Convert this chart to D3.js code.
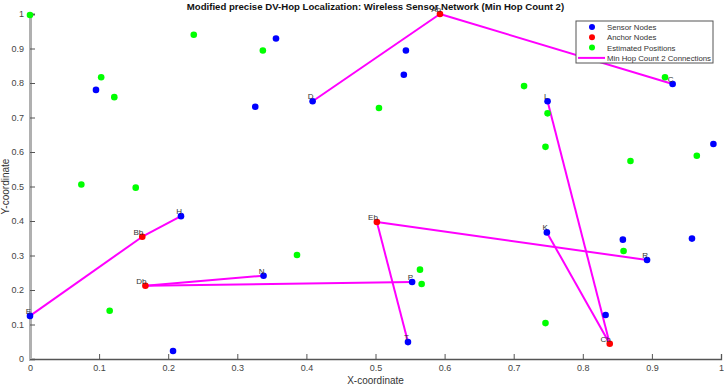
<!DOCTYPE html>
<html><head><meta charset="utf-8">
<script src="https://cdn.jsdelivr.net/npm/d3@7"></script>
<style>body{margin:0;background:#fff;} svg{display:block;font-family:"Liberation Sans",Arial,sans-serif;}</style>
</head><body>
<svg id="c" width="724" height="386"></svg>
<script>
// Sensor nodes: name, x, y
const sensorNames = ["S1","S2","S3","D","S5","S6","C","L","S9","S10","S11","K","R","H","E","N","S17","P","T","S20"];
const sensorX = [0.0955,0.356,0.326,0.409,0.544,0.541,0.930,0.749,0.989,0.958,0.858,0.748,0.893,0.2185,0.0,0.338,0.207,0.553,0.547,0.833];
const sensorY = [0.780,0.929,0.731,0.747,0.894,0.824,0.797,0.747,0.623,0.349,0.346,0.367,0.287,0.414,0.125,0.2415,0.023,0.223,0.049,0.1275];
const labeledSensors = ["D","C","L","K","R","H","E","N","P","T"];

const anchorNames = ["Ab","Bb","Cb","Db","Eb"];
const anchorX = [0.5933,0.1625,0.839,0.167,0.502];
const anchorY = [1.0,0.3545,0.0443,0.2125,0.397];

const estX = [0.0,0.237,0.337,0.103,0.122,0.505,0.715,0.919,0.749,0.746,0.869,0.965,0.859,0.0743,0.153,0.3864,0.1153,0.5644,0.5668,0.746];
const estY = [0.997,0.940,0.894,0.8165,0.759,0.7275,0.791,0.8165,0.712,0.615,0.574,0.589,0.313,0.506,0.4966,0.3014,0.140,0.259,0.2174,0.104];

const connFrom = ["Ab","Ab","Cb","Cb","Eb","Eb","Bb","Bb","Db","Db"];
const connTo   = ["D","C","L","K","R","T","H","E","N","P"];

const xTicks = [0,0.1,0.2,0.3,0.4,0.5,0.6,0.7,0.8,0.9,1];
const yTicks = [0,0.1,0.2,0.3,0.4,0.5,0.6,0.7,0.8,0.9,1];

const titleText = "Modified precise DV-Hop Localization: Wireless Sensor Network (Min Hop Count 2)";
const legendLabels = ["Sensor Nodes","Anchor Nodes","Estimated Positions","Min Hop Count 2 Connections"];
const legendColors = ["#0000ff","#ff0000","#00ff00","#ff00ff"];

const svg = d3.select("#c");
const L = 30, R = 721, T = 14, B = 359;
const x = d3.scaleLinear().domain([0,1]).range([L,R]);
const y = d3.scaleLinear().domain([0,1]).range([B,T]);

const pos = {};
sensorNames.forEach((n,i)=>pos[n]=[sensorX[i],sensorY[i]]);
anchorNames.forEach((n,i)=>pos[n]=[anchorX[i],anchorY[i]]);

// axes
const xAxis = svg.append("g").attr("transform",`translate(0,${B})`)
  .call(d3.axisBottom(x).tickValues(xTicks).tickSize(-5).tickPadding(6).tickFormat(d3.format("~g")));
const yAxis = svg.append("g").attr("transform",`translate(${L},0)`)
  .call(d3.axisLeft(y).tickValues(yTicks).tickSize(-5).tickPadding(6).tickFormat(d3.format("~g")));
[xAxis,yAxis].forEach(g=>{
  g.selectAll("text").attr("fill","#444").style("font-size","9px").style("font-family","Liberation Sans, Arial, sans-serif");
  g.selectAll(".tick line").attr("stroke","#555");
});
xAxis.select(".domain").attr("stroke","#555").attr("stroke-width",1.3);
yAxis.select(".domain").attr("stroke","#b0b0b0").attr("stroke-width",3);

// connections
const conn = svg.append("g");
connFrom.forEach((f,i)=>{
  const a = pos[f], b = pos[connTo[i]];
  conn.append("line").attr("x1",x(a[0])).attr("y1",y(a[1])).attr("x2",x(b[0])).attr("y2",y(b[1]))
    .attr("stroke","#ff00ff").attr("stroke-width",2);
});

// points
const pts = svg.append("g");
pts.selectAll(".s").data(sensorNames).enter().append("circle")
  .attr("cx",(d,i)=>x(sensorX[i])).attr("cy",(d,i)=>y(sensorY[i])).attr("r",3.3).attr("fill","#0000ff");
pts.selectAll(".a").data(anchorNames).enter().append("circle")
  .attr("cx",(d,i)=>x(anchorX[i])).attr("cy",(d,i)=>y(anchorY[i])).attr("r",3.3).attr("fill","#ff0000");
pts.selectAll(".e").data(estX).enter().append("circle")
  .attr("cx",(d,i)=>x(estX[i])).attr("cy",(d,i)=>y(estY[i])).attr("r",3.3).attr("fill","#00ff00");

// labels
const lab = svg.append("g").style("font-size","8px").attr("fill","#333");
labeledSensors.concat(anchorNames).forEach(n=>{
  const p = pos[n];
  lab.append("text").attr("x",x(p[0])+1).attr("y",y(p[1])-2).attr("text-anchor","end").text(n);
});

// title & axis labels
svg.append("text").attr("x",(L+R)/2).attr("y",10).attr("text-anchor","middle")
  .style("font-weight","bold").style("font-size","9.6px").attr("fill","#111").text(titleText);
svg.append("text").attr("x",(L+R)/2).attr("y",384).attr("text-anchor","middle")
  .style("font-size","10px").attr("fill","#333").text("X-coordinate");
svg.append("text").attr("transform",`translate(9,${(T+B)/2}) rotate(-90)`).attr("text-anchor","middle")
  .style("font-size","10px").attr("fill","#333").text("Y-coordinate");

// legend
const lg = svg.append("g");
lg.append("rect").attr("x",576).attr("y",21).attr("width",137).attr("height",42)
  .attr("fill","#fff").attr("stroke","#555").attr("stroke-width",1);
legendLabels.forEach((t,i)=>{
  const cy = 27 + i*10.3;
  if(i<3){
    lg.append("circle").attr("cx",592).attr("cy",cy).attr("r",3).attr("fill",legendColors[i]);
  } else {
    lg.append("line").attr("x1",578).attr("x2",605).attr("y1",cy).attr("y2",cy).attr("stroke",legendColors[i]).attr("stroke-width",2);
  }
  lg.append("text").attr("x",607).attr("y",cy+3).style("font-size","7.8px").attr("fill","#333").text(t);
});
</script>
</body></html>
